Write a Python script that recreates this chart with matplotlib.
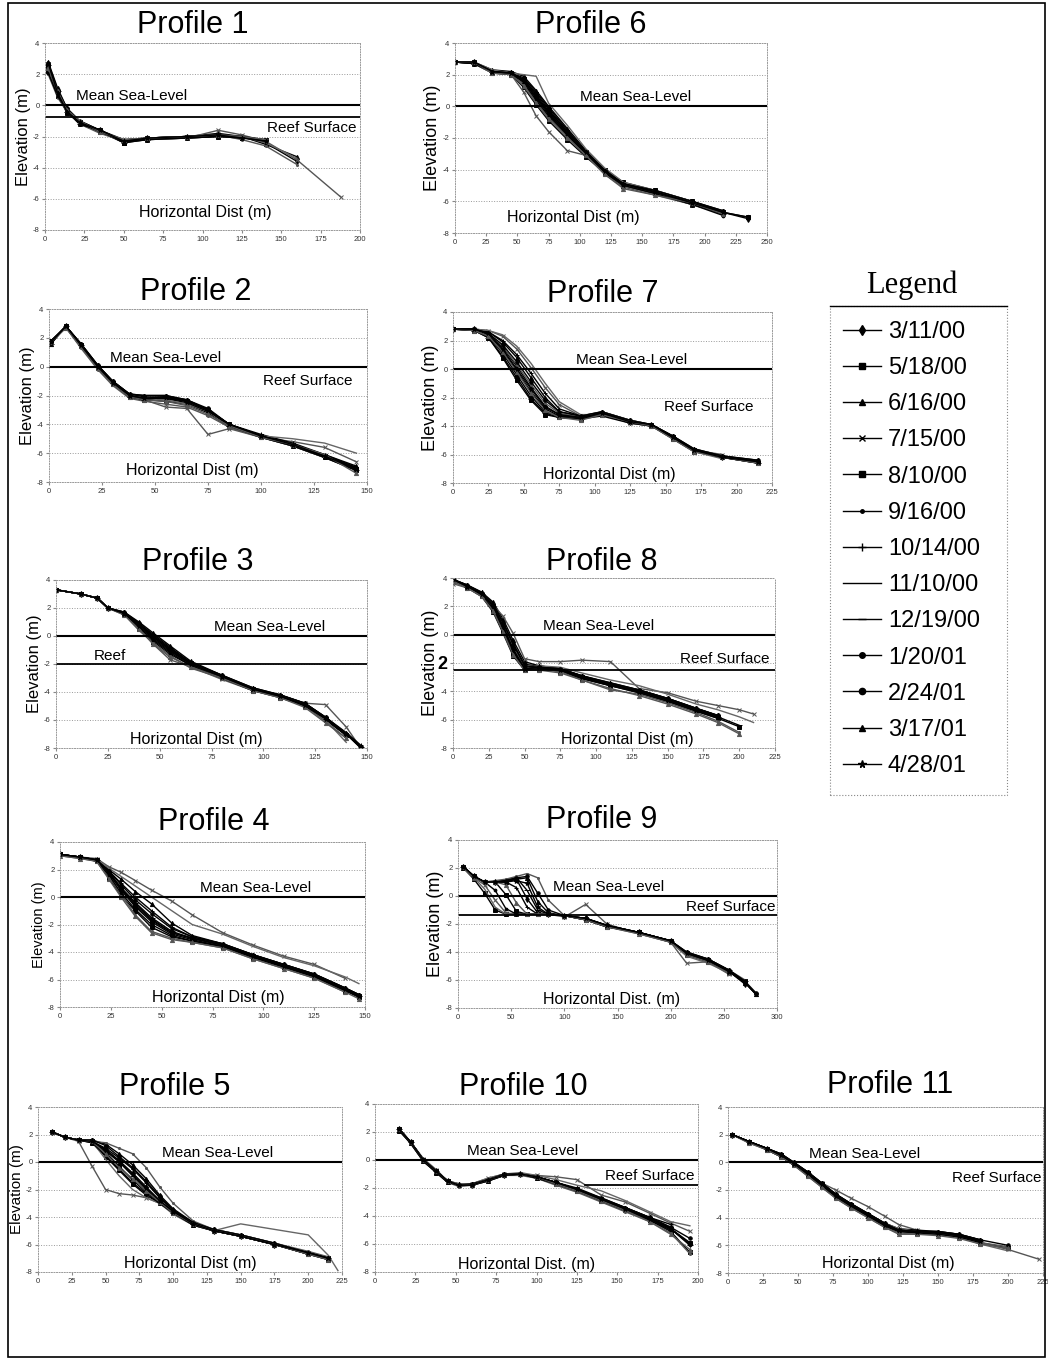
import numpy as np
import matplotlib
matplotlib.use('Agg')
import matplotlib.pyplot as plt
from matplotlib.lines import Line2D
from matplotlib.patches import Rectangle

plt.rcParams['font.family'] = ['Liberation Sans', 'DejaVu Sans']
plt.rcParams['axes.unicode_minus'] = False

W, H = 1048, 1360

dates = ['3/11/00', '5/18/00', '6/16/00', '7/15/00', '8/10/00', '9/16/00', '10/14/00',
         '11/10/00', '12/19/00', '1/20/01', '2/24/01', '3/17/01', '4/28/01']

# ---- survey data, one list per date (None = not surveyed that far) ----
p1_x = [2, 8, 14, 22, 35, 50, 65, 90, 110, 125, 140, 160, 188]
p1_y = [
    [2.6, 0.9, -0.3, -1.1, -1.6, -2.3, -2.1, -2.0, -1.9, -2.0, -2.4, -3.6, None],
    [2.2, 0.6, -0.4, -1.2, -1.7, -2.4, -2.2, -2.1, -2.0, -2.1, -2.2, None, None],
    [2.8, 1.1, -0.2, -1.0, -1.6, -2.2, -2.1, -2.0, -1.8, -2.0, -2.5, -3.3, None],
    [2.4, 0.8, -0.3, -1.2, -1.7, -2.3, -2.2, -2.1, -1.6, -1.9, -2.3, -3.5, -5.9],
    [2.5, 0.7, -0.5, -1.1, -1.6, -2.4, -2.1, -2.0, -1.9, -2.1, None, None, None],
    [2.0, 0.5, -0.4, -1.2, -1.8, -2.3, -2.2, -2.0, -1.9, -2.2, -2.6, -3.8, None],
    [2.7, 1.0, -0.2, -1.0, -1.6, -2.3, -2.1, -2.1, -2.0, -2.0, -2.2, None, None],
    [2.3, 0.7, -0.3, -1.1, -1.7, -2.2, -2.1, -2.0, -1.9, -2.0, -2.4, -3.4, None],
    [2.6, 0.9, -0.4, -1.2, -1.6, -2.4, -2.2, -2.0, -1.9, -2.1, None, None, None],
    [2.1, 0.6, -0.3, -1.1, -1.7, -2.3, -2.1, -2.0, -1.9, -2.0, -2.3, None, None],
    [2.5, 0.8, -0.2, -1.2, -1.6, -2.3, -2.2, -2.1, -2.0, -2.1, None, None, None],
    [2.4, 0.9, -0.3, -1.0, -1.7, -2.2, -2.1, -2.0, -1.9, -2.0, -2.2, None, None],
    [2.7, 0.8, -0.4, -1.1, -1.6, -2.3, -2.1, -2.0, -1.9, -2.1, -2.3, None, None],
]

p2_x = [1, 8, 15, 23, 30, 38, 45, 55, 65, 75, 85, 100, 115, 130, 145]
p2_y = [
    [1.7, 2.8, 1.5, 0.0, -1.1, -2.0, -2.2, -2.1, -2.4, -3.0, -4.1, -4.8, -5.4, -6.2, -7.0],
    [1.8, 2.7, 1.4, -0.1, -1.2, -2.1, -2.3, -2.4, -2.6, -3.2, -4.2, -4.9, -5.5, -6.3, -7.2],
    [1.6, 2.8, 1.6, 0.1, -1.0, -1.9, -2.0, -2.0, -2.3, -3.0, -4.0, -4.8, -5.4, -6.1, -6.9],
    [1.7, 2.8, 1.5, 0.0, -1.1, -2.0, -2.3, -2.8, -2.9, -4.7, -4.3, -4.9, -5.2, -5.6, -6.6],
    [1.7, 2.8, 1.5, 0.0, -1.1, -2.0, -2.2, -2.2, -2.4, -3.0, -4.0, -4.8, -5.4, -6.2, -7.1],
    [1.7, 2.7, 1.3, -0.2, -1.3, -2.2, -2.4, -2.6, -2.8, -3.4, -4.2, -4.9, -5.5, -6.3, None],
    [1.8, 2.8, 1.6, 0.1, -1.0, -1.9, -2.1, -2.1, -2.3, -3.0, -4.0, -4.7, -5.3, -6.1, -7.0],
    [1.7, 2.8, 1.4, 0.0, -1.2, -2.0, -2.2, -2.3, -2.6, -3.1, -4.1, -4.8, -5.0, -5.3, -6.0],
    [1.6, 2.8, 1.5, 0.0, -1.1, -2.1, -2.3, -2.1, -2.4, -3.0, -4.1, -4.9, -5.5, -6.3, -7.2],
    [1.7, 2.8, 1.5, 0.0, -1.1, -2.0, -2.2, -2.2, -2.5, -3.1, -4.0, -4.8, -5.4, -6.2, -7.1],
    [1.8, 2.8, 1.6, 0.1, -1.0, -1.9, -2.0, -2.0, -2.3, -2.9, -4.0, -4.8, -5.4, -6.2, -7.0],
    [1.7, 2.7, 1.4, -0.1, -1.2, -2.1, -2.3, -2.4, -2.7, -3.3, -4.1, -4.9, -5.4, -6.1, -7.4],
    [1.7, 2.8, 1.5, 0.0, -1.1, -2.0, -2.2, -2.1, -2.4, -3.0, -4.0, -4.8, -5.4, -6.2, -7.1],
]

p3_x = [0, 12, 20, 25, 33, 40, 47, 55, 65, 80, 95, 108, 120, 130, 140, 147]
p3_y = [
    [3.3, 3.0, 2.7, 2.0, 1.6, 0.8, -0.1, -1.0, -2.0, -2.9, -3.8, -4.3, -4.9, -5.9, -7.0, -7.9],
    [3.3, 3.0, 2.7, 2.0, 1.6, 0.5, -0.4, -1.3, -2.1, -3.0, -3.9, -4.4, -5.0, -6.0, -7.1, None],
    [3.3, 3.0, 2.7, 2.0, 1.7, 1.0, 0.2, -0.7, -1.8, -2.8, -3.7, -4.2, -4.8, -5.8, -7.0, -8.0],
    [3.3, 3.0, 2.7, 2.0, 1.6, 0.6, -0.6, -1.7, -2.2, -3.1, -3.9, -4.3, -4.8, -4.9, -6.5, -8.0],
    [3.3, 3.0, 2.7, 2.0, 1.6, 0.8, 0.0, -0.9, -1.9, -2.9, -3.8, -4.3, -4.9, -5.9, -7.1, None],
    [3.3, 3.0, 2.7, 2.0, 1.5, 0.4, -0.5, -1.4, -2.3, -3.0, -3.9, -4.4, -5.0, -6.1, -7.3, None],
    [3.3, 3.0, 2.7, 2.0, 1.7, 0.9, 0.1, -0.8, -1.9, -2.8, -3.7, -4.2, -4.8, -5.8, -6.9, -7.8],
    [3.3, 3.0, 2.7, 2.0, 1.6, 0.7, -0.2, -1.2, -2.0, -2.9, -3.8, -4.3, -4.9, -6.0, -7.6, None],
    [3.3, 3.0, 2.7, 2.0, 1.6, 0.8, -0.1, -1.0, -2.0, -2.9, -3.8, -4.3, -5.0, -5.9, -7.0, -7.9],
    [3.3, 3.0, 2.7, 2.0, 1.6, 0.6, -0.3, -1.2, -2.1, -3.0, -3.9, -4.3, -4.9, -5.9, -7.1, None],
    [3.3, 3.0, 2.7, 2.0, 1.7, 0.9, 0.0, -0.9, -1.9, -2.8, -3.8, -4.2, -4.8, -5.8, -7.0, -7.9],
    [3.3, 3.0, 2.7, 2.0, 1.5, 0.5, -0.6, -1.5, -2.2, -3.0, -3.9, -4.4, -5.1, -6.2, -7.3, None],
    [3.3, 3.0, 2.7, 2.0, 1.6, 0.7, -0.2, -1.1, -2.0, -2.9, -3.8, -4.3, -4.9, -5.9, -7.0, -8.0],
]

p4_x = [0, 10, 18, 24, 30, 37, 45, 55, 65, 80, 95, 110, 125, 140, 147]
p4_y = [
    [3.1, 2.9, 2.7, 1.8, 0.6, -0.5, -1.6, -2.6, -3.0, -3.5, -4.3, -5.0, -5.7, -6.7, -7.2],
    [3.1, 2.9, 2.6, 1.4, 0.1, -1.0, -2.2, -2.9, -3.2, -3.6, -4.4, -5.1, -5.8, -6.8, -7.3],
    [3.1, 2.9, 2.7, 2.0, 1.3, 0.4, -0.5, -1.9, -2.8, -3.4, -4.2, -4.9, -5.6, -6.6, -7.1],
    [3.1, 2.9, 2.8, 2.2, 1.8, 1.2, 0.5, -0.3, -1.3, -2.6, -3.5, -4.3, -4.9, -5.9, None],
    [3.1, 2.9, 2.7, 1.7, 0.5, -0.7, -1.8, -2.7, -3.1, -3.6, -4.3, -5.0, -5.8, -6.8, -7.2],
    [3.0, 2.8, 2.6, 1.5, 0.2, -1.3, -2.5, -3.0, -3.3, -3.7, -4.5, -5.2, -5.9, -6.9, None],
    [3.1, 2.9, 2.7, 1.9, 1.0, 0.0, -1.0, -2.2, -2.9, -3.4, -4.2, -4.9, -5.6, -6.6, -7.1],
    [3.1, 2.9, 2.7, 2.1, 1.5, 0.8, 0.0, -1.0, -2.0, -2.7, -3.6, -4.4, -5.0, -5.8, -6.3],
    [3.1, 2.9, 2.7, 1.8, 0.7, -0.4, -1.5, -2.5, -3.0, -3.5, -4.3, -5.0, -5.7, -6.7, -7.2],
    [3.1, 2.9, 2.6, 1.6, 0.3, -0.9, -2.0, -2.8, -3.2, -3.6, -4.4, -5.1, -5.8, -6.8, None],
    [3.1, 2.9, 2.7, 1.9, 0.9, -0.2, -1.2, -2.3, -2.9, -3.4, -4.2, -4.9, -5.6, -6.6, -7.1],
    [3.0, 2.8, 2.6, 1.3, 0.0, -1.4, -2.6, -3.1, -3.3, -3.7, -4.5, -5.2, -5.9, -6.9, -7.4],
    [3.1, 2.9, 2.7, 1.8, 0.6, -0.6, -1.7, -2.6, -3.0, -3.5, -4.3, -5.0, -5.7, -6.7, -7.2],
]

p5_x = [10, 20, 30, 40, 50, 60, 70, 80, 90, 100, 115, 130, 150, 175, 200, 215, 222]
p5_y = [
    [2.2, 1.8, 1.6, 1.5, 0.9, 0.1, -0.8, -1.8, -2.8, -3.6, -4.5, -5.0, -5.4, -6.0, -6.6, -7.0, None],
    [2.2, 1.8, 1.6, 1.4, 0.4, -0.6, -1.6, -2.4, -3.0, -3.7, -4.6, -5.0, -5.4, -6.0, -6.7, -7.1, None],
    [2.2, 1.8, 1.6, 1.6, 1.3, 0.6, -0.2, -1.2, -2.4, -3.4, -4.4, -4.9, -5.3, -5.9, -6.6, -7.0, None],
    [2.2, 1.8, 1.5, -0.3, -2.0, -2.3, -2.4, -2.6, -3.0, -3.7, -4.5, -5.0, -5.4, -6.0, -6.7, -7.1, None],
    [2.2, 1.8, 1.6, 1.5, 0.7, -0.3, -1.3, -2.2, -2.9, -3.7, -4.5, -5.0, -5.4, -6.0, -6.6, -7.0, None],
    [2.2, 1.8, 1.6, 1.5, 1.4, 1.0, 0.6, -0.4, -1.8, -3.0, -4.3, -4.9, -5.3, -5.9, -6.5, -6.9, None],
    [2.2, 1.8, 1.6, 1.5, 1.0, 0.3, -0.5, -1.5, -2.6, -3.5, -4.5, -5.0, -5.4, -6.0, -6.6, -7.0, None],
    [2.2, 1.8, 1.6, 1.5, 0.2, -1.0, -2.0, -2.6, -3.0, -3.8, -4.6, -5.0, -4.5, -4.9, -5.3, -6.8, -7.9],
    [2.2, 1.8, 1.6, 1.5, 0.8, 0.0, -1.0, -2.0, -2.9, -3.7, -4.5, -5.0, -5.4, -6.0, -6.7, -7.0, None],
    [2.2, 1.8, 1.6, 1.4, 0.5, -0.5, -1.5, -2.3, -3.0, -3.7, -4.6, -5.0, -5.4, -6.0, -6.7, -7.1, None],
    [2.2, 1.8, 1.6, 1.6, 1.2, 0.4, -0.4, -1.4, -2.5, -3.5, -4.4, -4.9, -5.3, -5.9, -6.6, -7.0, None],
    [2.2, 1.8, 1.6, 1.5, 0.6, -0.4, -1.2, -2.1, -2.9, -3.7, -4.5, -5.0, -5.4, -6.0, -6.7, -7.1, None],
    [2.2, 1.8, 1.6, 1.5, 0.9, 0.1, -0.9, -1.9, -2.8, -3.6, -4.5, -5.0, -5.4, -6.0, -6.6, -7.0, None],
]

p6_x = [0, 15, 30, 45, 55, 65, 75, 90, 105, 120, 135, 160, 190, 215, 235]
p6_y = [
    [2.8, 2.8, 2.2, 2.1, 1.6, 0.6, -0.4, -1.7, -3.0, -4.1, -4.9, -5.4, -6.1, -6.7, -7.1],
    [2.8, 2.7, 2.1, 2.0, 1.2, 0.1, -0.9, -2.1, -3.2, -4.2, -5.0, -5.5, -6.2, -6.8, None],
    [2.8, 2.8, 2.3, 2.2, 1.9, 1.0, 0.0, -1.4, -2.8, -4.0, -4.9, -5.4, -6.0, -6.6, None],
    [2.8, 2.7, 2.2, 2.0, 0.9, -0.6, -1.6, -2.8, -3.1, -4.3, -5.1, -5.6, -6.2, None, None],
    [2.8, 2.8, 2.2, 2.1, 1.7, 0.8, -0.2, -1.6, -2.9, -4.0, -4.8, -5.3, -6.0, -6.7, -7.0],
    [2.8, 2.7, 2.1, 2.0, 1.4, 0.3, -0.7, -1.9, -3.1, -4.2, -5.0, -5.5, -6.1, -6.8, None],
    [2.8, 2.8, 2.2, 2.1, 1.8, 0.9, -0.1, -1.5, -2.9, -4.0, -4.9, -5.4, -6.0, -6.7, None],
    [2.8, 2.8, 2.3, 2.1, 2.0, 1.9, 0.2, -1.2, -2.7, -3.9, -4.8, -5.3, -6.0, None, None],
    [2.8, 2.7, 2.2, 2.1, 1.5, 0.4, -0.6, -1.8, -3.0, -4.1, -4.9, -5.4, -6.1, -6.8, None],
    [2.8, 2.8, 2.2, 2.0, 1.6, 0.5, -0.5, -1.8, -3.0, -4.2, -5.0, -5.5, -6.2, -6.9, None],
    [2.8, 2.7, 2.2, 2.1, 1.7, 0.7, -0.3, -1.6, -2.9, -4.1, -4.9, -5.3, -6.0, -6.6, None],
    [2.8, 2.8, 2.1, 2.0, 1.3, 0.2, -0.8, -2.0, -3.1, -4.3, -5.2, -5.6, -6.1, -6.8, None],
    [2.8, 2.8, 2.2, 2.1, 1.6, 0.6, -0.4, -1.7, -2.9, -4.1, -4.9, -5.4, -6.1, -6.7, -7.0],
]

p7_x = [0, 15, 25, 35, 45, 55, 65, 75, 90, 105, 125, 140, 155, 170, 190, 215]
p7_y = [
    [2.8, 2.8, 2.5, 1.5, 0.2, -1.3, -2.6, -3.2, -3.4, -3.1, -3.7, -3.9, -4.8, -5.7, -6.2, -6.5],
    [2.8, 2.7, 2.2, 0.8, -0.8, -2.2, -3.2, -3.4, -3.5, -3.2, -3.7, -4.0, -4.9, -5.8, -6.2, -6.6],
    [2.8, 2.8, 2.6, 1.9, 0.8, -0.6, -2.0, -3.0, -3.3, -3.0, -3.6, -3.9, -4.7, -5.6, -6.1, -6.4],
    [2.8, 2.8, 2.7, 2.3, 1.4, 0.1, -1.3, -2.5, -3.3, -3.1, -3.8, -4.0, -4.8, -5.7, -6.0, None],
    [2.8, 2.7, 2.3, 1.1, -0.4, -1.9, -3.0, -3.3, -3.4, -3.2, -3.7, -3.9, -4.8, -5.7, -6.2, -6.6],
    [2.8, 2.8, 2.5, 1.6, 0.3, -1.1, -2.4, -3.1, -3.4, -3.0, -3.6, -3.9, -4.8, -5.8, -6.2, -6.5],
    [2.8, 2.8, 2.6, 2.0, 1.0, -0.3, -1.7, -2.8, -3.3, -3.1, -3.7, -3.9, -4.7, -5.6, -6.1, -6.5],
    [2.8, 2.8, 2.7, 2.4, 1.6, 0.4, -1.0, -2.3, -3.2, -3.2, -3.8, -4.0, -4.9, -5.8, -6.3, None],
    [2.8, 2.7, 2.2, 0.9, -0.6, -2.1, -3.1, -3.4, -3.5, -3.3, -3.8, -4.0, -4.8, -5.7, -6.2, -6.6],
    [2.8, 2.8, 2.4, 1.3, -0.1, -1.6, -2.8, -3.3, -3.4, -3.1, -3.7, -3.9, -4.8, -5.7, -6.2, -6.5],
    [2.8, 2.8, 2.5, 1.7, 0.5, -0.9, -2.2, -3.0, -3.3, -3.0, -3.6, -3.9, -4.7, -5.7, -6.1, -6.4],
    [2.8, 2.7, 2.3, 1.2, -0.2, -1.7, -2.9, -3.4, -3.6, -3.2, -3.7, -4.0, -4.9, -5.8, -6.2, -6.6],
    [2.8, 2.8, 2.5, 1.4, 0.0, -1.4, -2.7, -3.2, -3.4, -3.1, -3.7, -3.9, -4.8, -5.7, -6.2, -6.5],
]

p8_x = [0, 10, 20, 28, 35, 42, 50, 60, 75, 90, 110, 130, 150, 170, 185, 200, 210]
p8_y = [
    [3.9, 3.4, 2.9, 2.0, 0.6, -1.0, -2.4, -2.3, -2.5, -3.0, -3.5, -4.0, -4.6, -5.3, -5.8, None, None],
    [3.8, 3.3, 2.7, 1.6, 0.1, -1.5, -2.5, -2.4, -2.6, -3.1, -3.6, -4.1, -4.7, -5.4, -5.9, -6.5, None],
    [3.9, 3.5, 3.0, 2.3, 1.1, -0.4, -1.9, -2.2, -2.4, -2.9, -3.4, -3.9, -4.5, -5.2, -5.7, None, None],
    [3.6, 3.3, 2.8, 2.1, 1.3, 0.1, -1.7, -1.9, -1.9, -1.8, -1.9, -3.8, -4.1, -4.7, -5.0, -5.3, -5.6],
    [3.9, 3.4, 2.8, 1.9, 0.4, -1.2, -2.5, -2.3, -2.5, -3.0, -3.6, -4.0, -4.6, -5.3, -5.8, None, None],
    [3.8, 3.3, 2.7, 1.7, 0.2, -1.4, -2.5, -2.4, -2.6, -3.2, -3.9, -4.2, -4.8, -5.5, -6.1, -6.9, None],
    [3.9, 3.5, 3.0, 2.2, 0.9, -0.6, -2.1, -2.2, -2.4, -2.9, -3.4, -3.9, -4.5, -5.2, -5.7, None, None],
    [3.7, 3.3, 2.8, 2.0, 0.7, -0.9, -2.3, -2.2, -2.3, -2.7, -3.2, -3.6, -4.2, -4.9, -5.3, -5.8, -6.2],
    [3.9, 3.4, 2.9, 2.0, 0.5, -1.1, -2.4, -2.3, -2.5, -3.0, -3.5, -4.0, -4.6, -5.3, -5.8, -6.4, None],
    [3.8, 3.4, 2.8, 1.8, 0.3, -1.3, -2.5, -2.4, -2.5, -3.1, -3.6, -4.1, -4.7, -5.4, -5.9, None, None],
    [3.9, 3.5, 2.9, 2.1, 0.8, -0.7, -2.2, -2.3, -2.4, -2.9, -3.5, -3.9, -4.5, -5.2, -5.7, None, None],
    [3.8, 3.3, 2.7, 1.7, 0.2, -1.4, -2.5, -2.5, -2.7, -3.2, -3.8, -4.3, -4.9, -5.6, -6.2, -7.0, None],
    [3.9, 3.4, 2.9, 2.0, 0.6, -1.0, -2.4, -2.3, -2.5, -3.0, -3.5, -4.0, -4.6, -5.3, -5.8, None, None],
]

p9_x = [5, 15, 25, 35, 45, 55, 65, 75, 85, 100, 120, 140, 170, 200, 215, 235, 255, 270, 280]
p9_y = [
    [2.1, 1.4, 1.0, 1.0, 1.1, 1.2, -0.2, -1.2, -1.3, -1.4, -1.6, -2.1, -2.6, -3.2, -4.1, -4.6, -5.4, -6.3, None],
    [2.0, 1.2, 0.2, -1.0, -1.3, -1.3, -1.3, -1.3, -1.3, -1.4, -1.7, -2.2, -2.6, -3.3, -4.2, -4.7, -5.5, None, None],
    [2.1, 1.4, 1.0, 1.0, 1.0, 1.2, 1.3, -0.4, -1.2, -1.4, -1.6, -2.1, -2.6, -3.2, -4.0, -4.5, -5.3, -6.2, -7.0],
    [2.1, 1.3, 0.8, -0.3, -1.2, -1.3, -1.3, -1.3, -1.3, -1.5, -0.6, -2.0, -2.7, -3.3, -4.8, -4.7, -5.6, None, None],
    [2.1, 1.4, 1.0, 1.0, 0.1, -1.1, -1.3, -1.3, -1.3, -1.4, -1.7, -2.2, -2.6, -3.2, -4.1, -4.6, -5.4, -6.1, None],
    [2.1, 1.4, 1.0, 1.1, 1.2, 1.4, 1.6, 1.3, -0.3, -1.4, -1.6, -2.1, -2.6, -3.2, -4.1, -4.5, -5.3, -6.0, None],
    [2.1, 1.4, 1.0, 1.0, 1.0, 0.6, -0.8, -1.3, -1.3, -1.4, -1.7, -2.2, -2.6, -3.3, -4.2, -4.6, -5.4, -6.2, -7.0],
    [2.0, 1.3, 0.5, -0.8, -1.3, -1.3, -1.3, -1.3, -1.3, -1.4, -1.7, -2.2, -2.7, -3.3, -4.3, -4.8, -5.5, None, None],
    [2.1, 1.4, 1.0, 1.0, 1.1, 1.3, 0.4, -1.0, -1.3, -1.4, -1.6, -2.1, -2.6, -3.2, -4.1, -4.5, -5.3, -6.1, None],
    [2.1, 1.4, 1.0, 0.4, -0.9, -1.3, -1.3, -1.3, -1.3, -1.4, -1.7, -2.2, -2.6, -3.2, -4.1, -4.6, -5.4, None, None],
    [2.1, 1.4, 1.0, 1.0, 1.1, 1.3, 1.4, 0.2, -1.0, -1.4, -1.6, -2.1, -2.6, -3.2, -4.0, -4.5, -5.3, -6.1, -6.9],
    [2.1, 1.3, 1.0, 1.0, 0.8, -0.5, -1.3, -1.3, -1.3, -1.4, -1.7, -2.2, -2.7, -3.3, -4.2, -4.7, -5.5, None, None],
    [2.1, 1.4, 1.0, 1.0, 1.0, 1.1, 0.9, -0.8, -1.3, -1.4, -1.6, -2.1, -2.6, -3.2, -4.1, -4.6, -5.4, -6.2, -7.0],
]

p10_x = [15, 22, 30, 38, 45, 52, 60, 70, 80, 90, 100, 112, 125, 140, 155, 170, 183, 195]
p10_y = [
    [2.2, 1.3, 0.0, -0.8, -1.5, -1.8, -1.8, -1.4, -1.1, -1.0, -1.2, -1.6, -2.1, -2.8, -3.5, -4.2, -4.9, -6.0],
    [2.1, 1.2, -0.1, -0.9, -1.6, -1.8, -1.8, -1.5, -1.1, -1.0, -1.3, -1.7, -2.2, -2.9, -3.6, -4.3, -5.1, -6.6],
    [2.2, 1.3, 0.0, -0.8, -1.5, -1.7, -1.7, -1.4, -1.0, -1.0, -1.2, -1.6, -2.1, -2.7, -3.4, -4.1, -4.8, None],
    [2.2, 1.3, 0.1, -0.7, -1.5, -1.8, -1.7, -1.3, -1.0, -1.0, -1.1, -1.2, -1.4, -2.5, -3.0, -3.8, -4.5, -5.1],
    [2.2, 1.3, 0.0, -0.8, -1.5, -1.8, -1.8, -1.4, -1.1, -1.0, -1.2, -1.6, -2.1, -2.8, -3.5, -4.2, -4.9, -5.9],
    [2.1, 1.2, -0.1, -0.9, -1.6, -1.9, -1.8, -1.5, -1.1, -1.1, -1.3, -1.8, -2.3, -3.0, -3.7, -4.4, -5.2, -6.7],
    [2.2, 1.3, 0.0, -0.8, -1.5, -1.8, -1.7, -1.4, -1.0, -1.0, -1.2, -1.6, -2.0, -2.7, -3.4, -4.1, -4.6, None],
    [2.2, 1.3, 0.0, -0.8, -1.5, -1.7, -1.7, -1.3, -1.0, -0.9, -1.1, -1.4, -1.8, -2.2, -2.9, -3.7, -4.4, -4.7],
    [2.2, 1.3, 0.0, -0.8, -1.5, -1.8, -1.8, -1.4, -1.1, -1.0, -1.2, -1.6, -2.1, -2.8, -3.5, -4.2, -4.9, -6.1],
    [2.1, 1.2, -0.1, -0.9, -1.6, -1.8, -1.8, -1.5, -1.1, -1.0, -1.3, -1.7, -2.2, -2.9, -3.6, -4.3, -5.0, None],
    [2.2, 1.3, 0.0, -0.8, -1.5, -1.8, -1.7, -1.4, -1.0, -1.0, -1.2, -1.6, -2.1, -2.8, -3.4, -4.1, -4.8, -5.6],
    [2.2, 1.3, 0.0, -0.8, -1.5, -1.8, -1.8, -1.4, -1.1, -1.0, -1.2, -1.7, -2.2, -2.9, -3.6, -4.4, -5.3, -6.4],
    [2.2, 1.3, 0.0, -0.8, -1.5, -1.8, -1.8, -1.4, -1.1, -1.0, -1.2, -1.6, -2.1, -2.8, -3.5, -4.2, -4.9, -6.0],
]

p11_x = [3, 15, 28, 38, 47, 57, 67, 77, 88, 100, 112, 122, 135, 150, 165, 180, 200, 222]
p11_y = [
    [2.0, 1.5, 1.0, 0.5, -0.1, -0.8, -1.6, -2.4, -3.1, -3.8, -4.5, -4.9, -5.0, -5.1, -5.3, -5.7, None, None],
    [2.0, 1.5, 0.9, 0.4, -0.2, -0.9, -1.7, -2.5, -3.2, -3.9, -4.6, -5.0, -5.1, -5.2, -5.4, -5.8, -6.2, None],
    [2.0, 1.5, 1.0, 0.6, 0.0, -0.7, -1.5, -2.3, -3.0, -3.7, -4.4, -4.9, -5.0, -5.0, -5.2, -5.6, None, None],
    [2.0, 1.5, 1.0, 0.5, -0.1, -0.8, -1.5, -2.0, -2.6, -3.2, -3.9, -4.5, -4.9, -5.1, -5.4, -5.8, -6.3, -7.0],
    [2.0, 1.5, 1.0, 0.5, -0.1, -0.8, -1.6, -2.4, -3.1, -3.8, -4.5, -4.9, -5.0, -5.1, -5.3, -5.7, None, None],
    [2.0, 1.4, 0.9, 0.4, -0.2, -1.0, -1.8, -2.6, -3.3, -4.0, -4.7, -5.1, -5.2, -5.2, -5.4, -5.8, -6.1, None],
    [2.0, 1.5, 1.0, 0.6, 0.0, -0.7, -1.5, -2.3, -3.0, -3.7, -4.4, -4.8, -4.9, -5.0, -5.2, -5.6, None, None],
    [2.0, 1.5, 1.0, 0.5, -0.1, -0.8, -1.6, -2.4, -3.1, -3.8, -4.4, -4.8, -5.0, -5.1, -5.4, -5.9, -6.4, None],
    [2.0, 1.5, 1.0, 0.5, -0.1, -0.8, -1.6, -2.4, -3.1, -3.8, -4.5, -4.9, -5.0, -5.1, -5.3, -5.7, None, None],
    [2.0, 1.5, 0.9, 0.4, -0.2, -0.9, -1.7, -2.5, -3.2, -3.9, -4.6, -5.0, -5.1, -5.2, -5.4, -5.8, None, None],
    [2.0, 1.5, 1.0, 0.6, 0.0, -0.7, -1.5, -2.3, -3.0, -3.7, -4.4, -4.9, -5.0, -5.0, -5.2, -5.6, -6.0, None],
    [2.0, 1.4, 0.9, 0.4, -0.2, -1.0, -1.8, -2.6, -3.3, -4.0, -4.7, -5.2, -5.2, -5.3, -5.5, -5.9, -6.2, None],
    [2.0, 1.5, 1.0, 0.5, -0.1, -0.8, -1.6, -2.4, -3.1, -3.8, -4.5, -4.9, -5.0, -5.1, -5.3, -5.7, None, None],
]

# reef surface levels (m) and where the line is drawn
reef = {1: (-0.75, 0, 200), 3: (-2.0, 0, 150), 8: (-2.5, 0, 225),
        9: (-1.35, 0, 300), 10: (-1.8, 130, 200)}

markers = ['d', 's', '^', 'x', 's', '.', '+', '', '_', 'o', 'o', '^', '*']
msizes = [3, 2.5, 3, 3, 3, 3, 3.5, 0, 4, 2, 2.5, 3, 3.5]
colors = ['black', 'black', 'black', '#555555', 'black', '#555555', 'black',
          '#666666', 'black', 'black', 'black', '#555555', 'black']

# layout: (number, x, y, xmax, xstep, [x0, x1, ytop, ybottom] px, title centre px,
#          ylabel size, xlabel (text, frac, y), msl text x, reef label)
panels = [
    (1, p1_x, p1_y, 200, 25, [45, 360, 43, 230], (193, 25), 12,
     ('Horizontal Dist (m)', 0.51, -6.85), 20, ('Reef Surface', 198, -1.45)),
    (6, p6_x, p6_y, 250, 25, [455, 767, 43, 233], (591, 25), 13,
     ('Horizontal Dist (m)', 0.38, -7.05), 100, None),
    (2, p2_x, p2_y, 150, 25, [49, 367, 309, 482], (196, 292), 12,
     ('Horizontal Dist (m)', 0.45, -7.2), 29, ('Reef Surface', 143, -1.0)),
    (7, p7_x, p7_y, 225, 25, [453, 772, 312, 483], (603, 294), 13,
     ('Horizontal Dist (m)', 0.49, -7.4), 87, ('Reef Surface', 212, -2.65)),
    (3, p3_x, p3_y, 150, 25, [56, 367, 580, 748], (198, 562), 12,
     ('Horizontal Dist (m)', 0.45, -7.4), 76, ('Reef', 18, -1.4)),
    (8, p8_x, p8_y, 225, 25, [453, 775, 578, 748], (602, 562), 13,
     ('Horizontal Dist (m)', 0.54, -7.4), 63, ('Reef Surface', 221, -1.75)),
    (4, p4_x, p4_y, 150, 25, [60, 365, 842, 1007], (214, 822), 10.5,
     ('Horizontal Dist (m)', 0.52, -7.3), 69, None),
    (9, p9_x, p9_y, 300, 50, [458, 777, 840, 1008], (602, 820), 13,
     ('Horizontal Dist. (m)', 0.48, -7.4), 89, ('Reef Surface', 299, -0.8)),
    (5, p5_x, p5_y, 225, 25, [38, 342, 1107, 1272], (175, 1087), 11,
     ('Horizontal Dist (m)', 0.5, -7.35), 92, None),
    (10, p10_x, p10_y, 200, 25, [375, 698, 1104, 1272], (523, 1087), None,
     ('Horizontal Dist. (m)', 0.47, -7.5), 57, ('Reef Surface', 198, -1.15)),
    (11, p11_x, p11_y, 225, 25, [728, 1043, 1107, 1273], (890, 1085), None,
     ('Horizontal Dist (m)', 0.51, -7.3), 58, ('Reef Surface', 224, -1.1)),
]

fig = plt.figure(figsize=(W / 100, H / 100), dpi=100)

for num, xs, ys, xmax, xstep, box, tpos, ylsize, xlab, mslx, reeflab in panels:
    x0, x1, yt, yb = box
    ax = fig.add_axes([x0 / W, 1 - yb / H, (x1 - x0) / W, (yb - yt) / H])
    for i, y in enumerate(ys):
        ax.plot(xs, np.array(y, dtype=float), color=colors[i], lw=1.0,
                marker=markers[i] or None, ms=msizes[i], mew=0.7)
    ax.axhline(0, color='black', lw=1.5)
    if num in reef:
        lvl, ra, rb = reef[num]
        ax.plot([ra, rb], [lvl, lvl], color='black', lw=1.3)
    ax.set_xlim(0, xmax)
    ax.set_ylim(-8, 4)
    ax.set_xticks(np.arange(0, xmax + 1, xstep))
    yt_vals = np.arange(-8, 5, 2)
    ax.set_yticks(yt_vals)
    if num == 8:
        # the -2 label is replaced by a big "2" in the original
        ax.set_yticklabels(['' if v == -2 else str(v) for v in yt_vals])
        ax.text(-4, -2.1, '2', ha='right', va='center', fontsize=13, fontweight='bold', clip_on=False)
    ax.tick_params(labelsize=5.5, length=2, color='#888888', labelcolor='#333333', pad=2)
    ax.grid(axis='y', ls=':', color='#999999', lw=0.7)
    for s in ax.spines.values():
        s.set_linestyle(':')
        s.set_color('#999999')
        s.set_linewidth(0.7)
    if ylsize:
        ax.set_ylabel('Elevation (m)', fontsize=ylsize, labelpad=1)
    ax.text(xlab[1] * xmax, xlab[2], xlab[0], ha='center', va='center', fontsize=11.5)
    ax.text(mslx, 0.12, 'Mean Sea-Level', ha='left', va='bottom', fontsize=11)
    if reeflab:
        ax.text(reeflab[1], reeflab[2], reeflab[0], ha='right' if reeflab[0] != 'Reef' else 'left',
                va='center', fontsize=11)
    fig.text(tpos[0] / W, 1 - tpos[1] / H, 'Profile %d' % num, ha='center', va='center', fontsize=22)

# legend panel
fig.text(912 / W, 1 - 285 / H, 'Legend', ha='center', va='center', fontsize=22,
         family=['Liberation Serif', 'DejaVu Serif'])
fig.add_artist(Line2D([830 / W, 1007 / W], [1 - 306 / H, 1 - 306 / H], color='black', lw=1,
                      transform=fig.transFigure))
fig.add_artist(Rectangle((830 / W, 1 - 795 / H), 177 / W, 489 / H, transform=fig.transFigure,
                         fill=False, ls=':', ec='#888888', lw=0.8))
handles = [Line2D([], [], color='black', lw=1, marker=markers[i] or None,
                  ms=msizes[i] + 2) for i in range(len(dates))]
fig.legend(handles, dates, loc='upper left', bbox_to_anchor=(843 / W, 1 - 321 / H),
           frameon=False, fontsize=17, handlelength=1.6, handletextpad=0.3,
           labelspacing=0.6, borderpad=0, borderaxespad=0)

# outer frame
fig.add_artist(Rectangle((8 / W, 3 / H), 1037 / W, 1354 / H, transform=fig.transFigure,
                         fill=False, ec='black', lw=1.2))

fig.savefig('out.png', dpi=100)
